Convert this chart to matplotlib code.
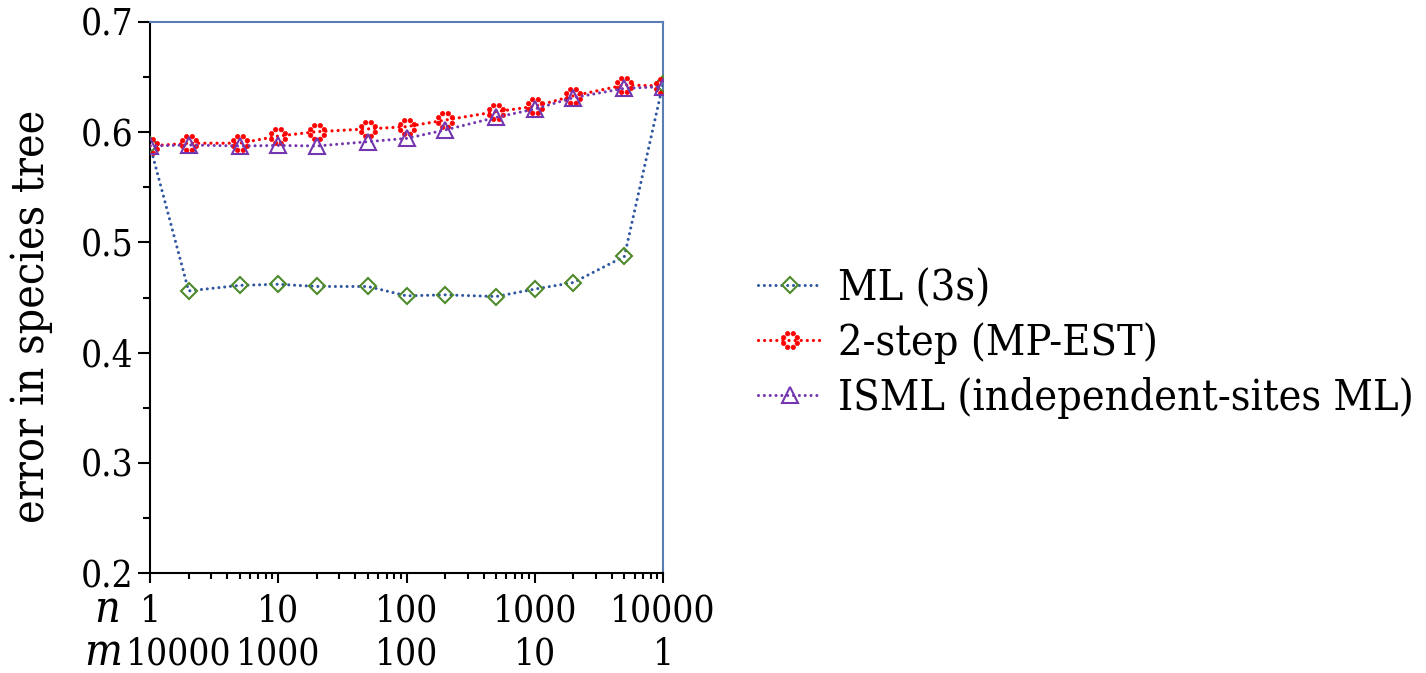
import matplotlib
matplotlib.use("Agg")
import numpy as np
import matplotlib.pyplot as plt
import matplotlib.transforms as mtransforms
from matplotlib.path import Path

# ---- data ----
n_vals = [1, 2, 5, 10, 20, 50, 100, 200, 500, 1000, 2000, 5000, 10000]
ml_3s = [0.588, 0.456, 0.461, 0.462, 0.460, 0.460, 0.4515, 0.4524, 0.4509, 0.4576, 0.4636, 0.4873, 0.644]
two_step = [0.5875, 0.590, 0.590, 0.5965, 0.6005, 0.603, 0.605, 0.611, 0.6186, 0.6235, 0.633, 0.6428, 0.642]
isml = [0.5875, 0.5884, 0.5875, 0.588, 0.5875, 0.5914, 0.5944, 0.602, 0.6135, 0.621, 0.6313, 0.6398, 0.6413]
n_ticks = [1, 10, 100, 1000, 10000]
n_tick_labels = ["1", "10", "100", "1000", "10000"]
m_tick_labels = ["10000", "1000", "100", "10", "1"]
y_ticks = [0.2, 0.3, 0.4, 0.5, 0.6, 0.7]
labels = ["ML (3s)", "2-step (MP-EST)", "ISML (independent-sites ML)"]

SERIF = ["DejaVu Serif", "Liberation Serif"]
STRETCH = "condensed"
FS_TICK = 26.5
FS_BIG = 31

# marker style: ring of dots (dotted circle)
_ang = np.linspace(0, 2 * np.pi, 9)[:-1] + np.pi / 8
ring_marker = Path.make_compound_path(*[Path.circle((np.cos(a), np.sin(a)), 0.3) for a in _ang])

fig = plt.figure(figsize=(14.26, 6.73), dpi=100)
ax = fig.add_axes([150/1426, 1-573/673, (663-150)/1426, (573-22)/673])

blue = "#2f56a0"
green = "#4f8a2b"
red = "#ff0000"
purple = "#7436b0"
dots = (0, (0.01, 1.9))

l1, = ax.plot(n_vals, ml_3s, linestyle=dots, lw=2.2, color=blue, dash_capstyle="round",
              marker="D", markersize=8, markerfacecolor="none", markeredgecolor=green,
              markeredgewidth=1.5, zorder=3)
l2, = ax.plot(n_vals, two_step, linestyle=dots, lw=2.3, color=red, dash_capstyle="round",
              marker=ring_marker, markersize=13, markerfacecolor=red, markeredgecolor=red,
              markeredgewidth=0.5, zorder=4)
l3, = ax.plot(n_vals, isml, linestyle=dots, lw=2.2, color=purple, dash_capstyle="round",
              marker="^", markersize=11, markerfacecolor="none", markeredgecolor=purple,
              markeredgewidth=1.5, zorder=5)

ax.set_xscale("log")
ax.set_xlim(1, 10000)
ax.set_ylim(0.2, 0.7)
ax.set_yticks(y_ticks)
ax.set_yticklabels([f"{v:.1f}" for v in y_ticks], fontfamily=SERIF, fontstretch=STRETCH, fontsize=FS_TICK)
ax.set_yticks([0.25, 0.35, 0.45, 0.55, 0.65], minor=True)
ax.set_xticks(n_ticks)
ax.set_xticklabels([""] * len(n_ticks))
ax.tick_params(axis="both", which="major", direction="out", length=9, width=1.5, color="black")
ax.tick_params(axis="both", which="minor", direction="out", length=5, width=1.5, color="black")
ax.tick_params(axis="x", which="major", length=7)
ax.tick_params(axis="x", which="minor", length=4)
ax.tick_params(axis="y", which="major", pad=3)

for side in ["left", "bottom"]:
    ax.spines[side].set_color("black")
    ax.spines[side].set_linewidth(1.5)
for side in ["top", "right"]:
    ax.spines[side].set_color("#5b7db5")
    ax.spines[side].set_linewidth(1.5)

ax.set_ylabel("error in species tree", fontfamily=SERIF, fontstretch=STRETCH, fontsize=FS_BIG + 1)
ax.yaxis.set_label_coords(-0.19, 0.466)

# two rows of x labels (n and m)
trans = mtransforms.blended_transform_factory(ax.transData, ax.transAxes)
for i, (x, lab_n, lab_m) in enumerate(zip(n_ticks, n_tick_labels, m_tick_labels)):
    ax.annotate(lab_n, xy=(x, 0), xycoords=trans, xytext=(0, -35), textcoords="offset points",
                ha="center", va="baseline", fontfamily=SERIF, fontstretch=STRETCH,
                fontsize=FS_TICK, annotation_clip=False)
    dx = 21 if i == 0 else 0
    ax.annotate(lab_m, xy=(x, 0), xycoords=trans, xytext=(dx, -66), textcoords="offset points",
                ha="center", va="baseline", fontfamily=SERIF, fontstretch=STRETCH,
                fontsize=FS_TICK, annotation_clip=False)

ax.annotate("n", xy=(0, 0), xycoords="axes fraction", xytext=(-31, -35), textcoords="offset points",
            ha="center", va="baseline", fontfamily=SERIF, fontstretch=STRETCH, fontstyle="italic",
            fontsize=FS_BIG + 1, annotation_clip=False)
ax.annotate("m", xy=(0, 0), xycoords="axes fraction", xytext=(-34, -66), textcoords="offset points",
            ha="center", va="baseline", fontfamily=SERIF, fontstretch=STRETCH, fontstyle="italic",
            fontsize=FS_BIG + 1, annotation_clip=False)

fig.legend([l1, l2, l3], labels, loc="center left", bbox_to_anchor=(741/1426, 1-343/673),
           frameon=False, prop={"family": SERIF, "stretch": STRETCH, "size": FS_BIG},
           handlelength=1.48, handletextpad=0.37, labelspacing=0.3, borderaxespad=0)

fig.savefig("out.png", dpi=100)
